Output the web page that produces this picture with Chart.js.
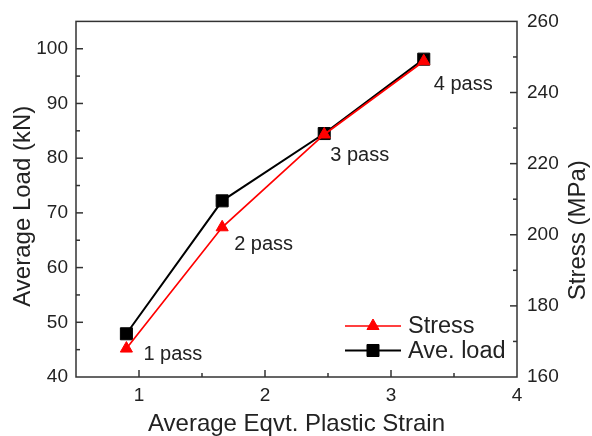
<!DOCTYPE html>
<html><head><meta charset="utf-8">
<script src="https://cdn.jsdelivr.net/npm/chart.js@4/dist/chart.umd.min.js"></script>
<style>html,body{margin:0;padding:0;background:#fff}canvas{display:block}</style>
</head><body>
<canvas id="c" width="592" height="436"></canvas>
<script>
// ---- data ----
const strain = [0.90, 1.66, 2.47, 3.26];
const aveLoad = [47.9, 72.2, 84.5, 98.1];
const stress = [168.0, 202.1, 228.2, 248.8];
const passLabels = ['1 pass', '2 pass', '3 pass', '4 pass'];
const seriesNames = ['Stress', 'Ave. load'];
const xTicks = [1, 2, 3, 4];
const loadTicks = [40, 50, 60, 70, 80, 90, 100];
const stressTicks = [160, 180, 200, 220, 240, 260];
const xTitle = 'Average Eqvt. Plastic Strain';
const yTitle = 'Average Load (kN)';
const y1Title = 'Stress (MPa)';

// ---- style ----
const FONT = "'Liberation Sans', Arial, sans-serif";
const AXIS = '#333333';
const TXT = '#222';
const passOffsets = [[17, 6], [12, 17], [6, 21], [10, 23]];

const boxTicks = {
  id: 'boxTicks',
  beforeDatasetsDraw(chart) {
    const {ctx, chartArea: a, scales} = chart;
    ctx.save();
    ctx.strokeStyle = AXIS;
    ctx.lineWidth = 1.5;
    ctx.strokeRect(a.left, a.top, a.right - a.left, a.bottom - a.top);
    const seg = (x1, y1, x2, y2) => { ctx.beginPath(); ctx.moveTo(x1, y1); ctx.lineTo(x2, y2); ctx.stroke(); };
    const doScale = (sc, ticks, side) => {
      const step = ticks[1] - ticks[0];
      const vals = [];
      ticks.forEach(v => vals.push([v, 7]));
      for (let v = ticks[0] - step / 2; v <= ticks[ticks.length - 1] + step / 2 + 1e-9; v += step) vals.push([v, 4]);
      vals.forEach(([v, len]) => {
        if (v <= sc.min + 1e-9 || v >= sc.max - 1e-9) return;
        const p = sc.getPixelForValue(v);
        if (side === 'bottom') seg(p, a.bottom, p, a.bottom - len);
        else if (side === 'left') seg(a.left, p, a.left + len, p);
        else seg(a.right, p, a.right - len, p);
      });
    };
    doScale(scales.x, xTicks, 'bottom');
    doScale(scales.y, loadTicks, 'left');
    doScale(scales.y1, stressTicks, 'right');
    ctx.restore();
  }
};

const extras = {
  id: 'extras',
  afterDatasetsDraw(chart) {
    const {ctx, chartArea: a} = chart;
    ctx.save();
    // pass labels next to stress markers
    const meta = chart.getDatasetMeta(0);
    ctx.fillStyle = TXT;
    ctx.font = '20px ' + FONT;
    ctx.textBaseline = 'middle';
    ctx.textAlign = 'left';
    meta.data.forEach((pt, i) => {
      ctx.fillText(passLabels[i], pt.x + passOffsets[i][0], pt.y + passOffsets[i][1]);
    });
    // legend (line + marker)
    chart.data.datasets.forEach((ds, i) => {
      const y = a.bottom - 51 + i * 24.5;
      const x0 = a.right - 172, x1 = a.right - 116;
      ctx.strokeStyle = ds.borderColor;
      ctx.fillStyle = ds.backgroundColor;
      ctx.lineWidth = ds.borderWidth;
      ctx.beginPath(); ctx.moveTo(x0, y); ctx.lineTo(x1, y); ctx.stroke();
      ctx.lineWidth = 1;
      Chart.helpers.drawPoint(ctx, {pointStyle: ds.pointStyle, radius: ds.pointRadius, borderWidth: 1, rotation: 0}, (x0 + x1) / 2, y);
      ctx.fillStyle = TXT;
      ctx.font = '23.5px ' + FONT;
      ctx.textAlign = 'left';
      ctx.textBaseline = 'middle';
      ctx.fillText(ds.label, a.right - 109, y + 1);
    });
    // axis titles on the vertical axes (both read bottom to top)
    const vTitle = (text, x, y) => {
      ctx.save();
      ctx.translate(x, y);
      ctx.rotate(-Math.PI / 2);
      ctx.font = '24px ' + FONT;
      ctx.textAlign = 'center';
      ctx.textBaseline = 'middle';
      ctx.fillStyle = TXT;
      ctx.fillText(text, 0, 0);
      ctx.restore();
    };
    const mid = (a.top + a.bottom) / 2;
    vTitle(yTitle, a.left - 53, mid + 7);
    vTitle(y1Title, a.right + 61, mid + 31);
    ctx.restore();
  }
};

const tickFont = {size: 19, family: FONT};
const titleFont = {size: 24, family: FONT, lineHeight: 1.0};

new Chart(document.getElementById('c'), {
  type: 'line',
  data: {
    datasets: [
      {
        label: seriesNames[0],
        data: strain.map((x, i) => ({x, y: stress[i]})),
        yAxisID: 'y1',
        borderColor: '#ff0000', backgroundColor: '#ff0000',
        borderWidth: 1.7, pointStyle: 'triangle', pointRadius: 7, pointBorderWidth: 1,
        pointHoverRadius: 7, tension: 0
      },
      {
        label: seriesNames[1],
        data: strain.map((x, i) => ({x, y: aveLoad[i]})),
        yAxisID: 'y',
        borderColor: '#000000', backgroundColor: '#000000',
        borderWidth: 2, pointStyle: 'rect', pointRadius: 8.5, pointBorderWidth: 1,
        pointHoverRadius: 8.5, tension: 0
      }
    ]
  },
  options: {
    responsive: false,
    animation: false,
    devicePixelRatio: 1,
    layout: {padding: {top: 20, left: 0, right: 0, bottom: 0}},
    plugins: {legend: {display: false}, tooltip: {enabled: false}},
    scales: {
      x: {
        type: 'linear', min: 0.5, max: 4,
        afterBuildTicks: s => { s.ticks = xTicks.map(v => ({value: v})); },
        afterFit: s => { s.height = 59; },
        grid: {display: false, drawTicks: false},
        border: {display: false},
        ticks: {font: tickFont, color: TXT, padding: 7, maxRotation: 0, autoSkip: false},
        title: {display: true, text: xTitle, font: titleFont, color: TXT, padding: 0}
      },
      y: {
        type: 'linear', position: 'left', min: 40, max: 105,
        afterBuildTicks: s => { s.ticks = loadTicks.map(v => ({value: v})); },
        afterFit: s => { s.width = 76; },
        grid: {display: false, drawTicks: false},
        border: {display: false},
        ticks: {font: tickFont, color: TXT, padding: 8, autoSkip: false},
        title: {display: false}
      },
      y1: {
        type: 'linear', position: 'right', min: 160, max: 260,
        afterBuildTicks: s => { s.ticks = stressTicks.map(v => ({value: v})); },
        afterFit: s => { s.width = 75; },
        grid: {display: false, drawTicks: false},
        border: {display: false},
        ticks: {font: tickFont, color: TXT, padding: 10, autoSkip: false},
        title: {display: false}
      }
    }
  },
  plugins: [boxTicks, extras]
});
</script>
</body></html>
